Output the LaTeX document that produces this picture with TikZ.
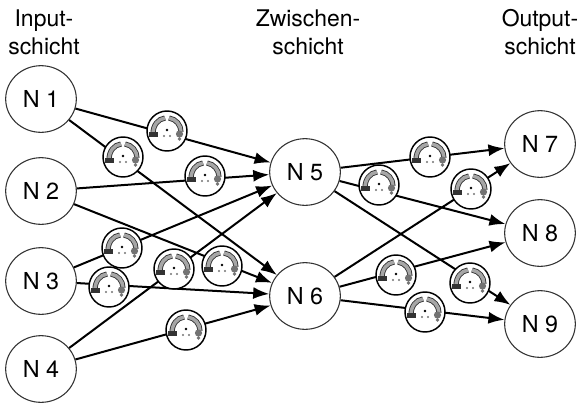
\documentclass[tikz,border=0pt]{standalone}
\usepackage{fontspec}
\setmainfont{TeX Gyre Heros}
\usetikzlibrary{arrows.meta,shapes.geometric}
\tikzset{
  x=0.75pt,y=-0.75pt,
  neuron/.style={draw=black!80,line width=0.8pt,ellipse,fill=white,minimum width=53pt,minimum height=50pt,inner sep=0pt,font=\fontsize{17.5}{20}\selectfont},
  head/.style={align=center,font=\fontsize{17.2}{21}\selectfont,inner sep=0pt},
  link/.style={line width=1.5pt,black,-{Latex[length=12pt,width=9pt]}},
  badge/.style={circle,draw=black,line width=1.1pt,fill=white,minimum size=30pt,inner sep=0pt},
  band/.style={draw=black!80,double=black!35,line width=0.65pt,double distance=2.6pt},
}
\newcommand{\mybadge}[3]{%
  \node[badge] (#1) at (#2,#3) {};
  \begin{scope}[shift={(#2,#3)}]
    \draw[band] (-14,3) .. controls (-14,-6) and (-9,-12) .. (-2,-13);
    \draw[band] (2,-13) .. controls (9,-12) and (14,-6) .. (14,1);
    \fill[black!80] (-18.5,0.5) rectangle (-9,5.5);
    \fill[black!55] (12.5,3) circle (3.6);
    \fill[black!55] (12.5,8) circle (1.8);
    \fill[black] (0,-1) circle (1.3);
    \fill[black!55] (-3,5) circle (1.1) (3,5) circle (1.1);
  \end{scope}
}
\begin{document}
\begin{tikzpicture}
\useasboundingbox (0,0) rectangle (578,404);
\node[head] (h1) at (44,32) {Input-\\schicht};
\node[head] (h2) at (308,32) {Zwischen-\\schicht};
\node[head] (h3) at (540,32) {Output-\\schicht};
\node[neuron] (n1) at (41,99) {N 1};
\node[neuron] (n2) at (41,191) {N 2};
\node[neuron] (n3) at (41,281) {N 3};
\node[neuron] (n4) at (41,369) {N 4};
\node[neuron] (n5) at (305,172) {N 5};
\node[neuron] (n6) at (305,296) {N 6};
\node[neuron] (n7) at (540,144) {N 7};
\node[neuron] (n8) at (540,233) {N 8};
\node[neuron] (n9) at (540,324) {N 9};
\foreach \a/\b in {n1/n5,n1/n6,n2/n5,n2/n6,n3/n5,n3/n6,n4/n5,n4/n6,n5/n7,n5/n8,n5/n9,n6/n7,n6/n8,n6/n9}
  \draw[link] (\a) -- (\b);
\mybadge{b1}{167}{131}
\mybadge{b2}{123}{157}
\mybadge{b3}{205}{176}
\mybadge{b4}{122}{248}
\mybadge{b5}{109}{287}
\mybadge{b6}{174}{269}
\mybadge{b7}{222}{266}
\mybadge{b8}{186}{330}
\mybadge{b9}{430}{157}
\mybadge{b10}{379}{185}
\mybadge{b11}{471}{189}
\mybadge{b12}{396}{275}
\mybadge{b13}{470}{283}
\mybadge{b14}{425}{312}
\end{tikzpicture}
\end{document}
